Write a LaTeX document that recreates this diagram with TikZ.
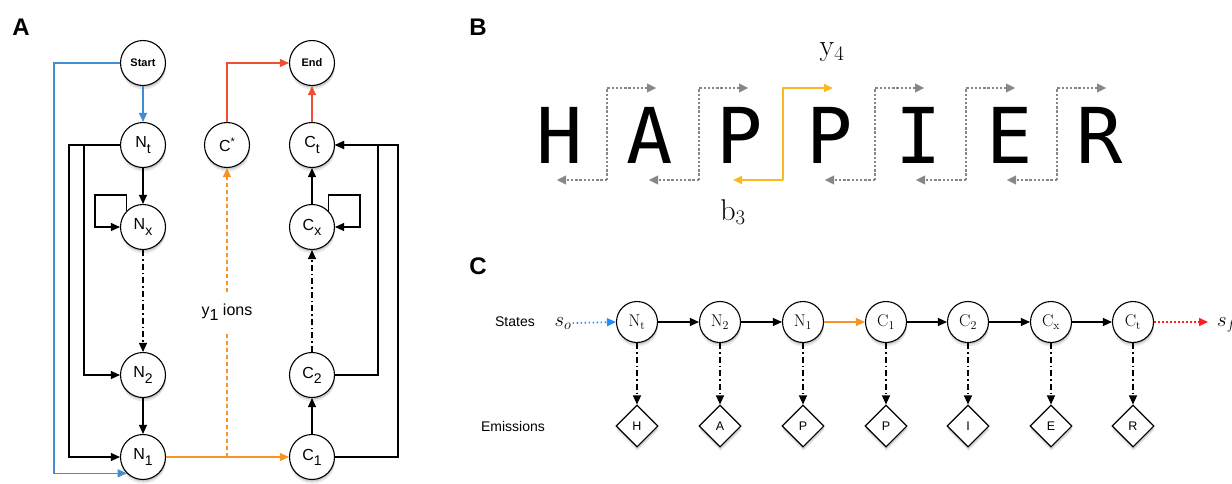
\documentclass[tikz,border=0pt]{standalone}
\usepackage{fontspec}
\usetikzlibrary{arrows.meta,shadows,shapes.geometric}
\newfontfamily\hv{Liberation Sans}
\newfontfamily\mono{DejaVu Sans Mono}
\definecolor{ablue}{RGB}{66,140,210}
\definecolor{ared}{RGB}{240,80,50}
\definecolor{aorange}{RGB}{247,148,40}
\definecolor{bgold}{RGB}{252,185,30}
\definecolor{bgray}{RGB}{135,135,135}
\definecolor{cblue}{RGB}{30,140,255}
\definecolor{cred}{RGB}{255,30,30}
\newcommand\mysub[2]{#1\raisebox{-0.32em}{\fontsize{14}{14}\selectfont #2}}
\tikzset{
  shad/.style={drop shadow={shadow xshift=0.5pt, shadow yshift=-2pt, opacity=0.3},
               drop shadow={shadow xshift=0.5pt, shadow yshift=-4pt, opacity=0.18}},
  st/.style={circle, draw, line width=1.1pt, fill=white, minimum size=45pt, inner sep=0pt,
             shad, font=\hv\fontsize{16}{16}\selectfont},
  cst/.style={st, minimum size=41pt, font=\fontsize{17}{17}\selectfont},
  em/.style={diamond, draw, line width=1.1pt, fill=white, minimum size=42pt, inner sep=0pt,
             shad, font=\hv\fontsize{12.5}{12.5}\selectfont},
  tip/.style={-{Triangle[length=9pt,width=8pt]}},
  ar/.style={tip, line width=1.1pt},
  ln/.style={line width=1.1pt},
  dd/.style={ar, dash pattern=on 6pt off 3pt on 1.5pt off 3pt},
  gdot/.style={bgray, line width=2.6pt, dash pattern=on 2.4pt off 1.8pt},
  gtip/.style={gdot, -{Triangle[length=9pt,width=9pt,line width=0.3pt]}},
  panel/.style={font=\hv\bfseries\fontsize{24}{24}\selectfont},
  letter/.style={anchor=base, inner sep=0pt, font=\mono\fontsize{77}{77}\selectfont},
  lab/.style={font=\hv\fontsize{14}{14}\selectfont},
}
\begin{document}
\begin{tikzpicture}[x=1pt,y=-1pt]
\useasboundingbox (0,0) rectangle (1232,483);
% ---------------- Panel A
\node[panel] (pA) at (21,27) {A};
\node[st, font=\hv\bfseries\fontsize{11}{11}\selectfont] (Start) at (143,63) {Start};
\node[st, font=\hv\bfseries\fontsize{11}{11}\selectfont] (End) at (312,63) {End};
\node[st] (Nt) at (143,145) {\mysub{N}{t}};
\node[st] (Cs) at (227,145) {C\raisebox{0.35em}{\fontsize{11}{11}\selectfont *}};
\node[st] (Ct) at (312,145) {\mysub{C}{t}};
\node[st] (Nx) at (143,227) {\mysub{N}{x}};
\node[st] (Cx) at (312,227) {\mysub{C}{x}};
\node[st] (N2) at (143,375) {\mysub{N}{2}};
\node[st] (C2) at (312,375) {\mysub{C}{2}};
\node[st] (N1) at (143,457) {\mysub{N}{1}};
\node[st] (C1) at (312,457) {\mysub{C}{1}};
\node[inner sep=0pt, minimum height=39pt, font=\hv\fontsize{16}{16}\selectfont] (ions) at (227,312) {y\raisebox{-0.32em}{1} ions};
\coordinate (bl) at (54,63);
\coordinate (nl1) at (69,145);
\coordinate (nl2) at (84,145);
\coordinate (lx) at (95,195);
\coordinate (rx) at (360,195);
\coordinate (cr2) at (378,145);
\coordinate (cr1) at (398,145);
\coordinate (J) at (227,457);
% blue
\draw[ar, ablue] (Start) -- (Nt);
\draw[ar, ablue] (Start.west) -- (bl) |- (N1.south west);
% left structure
\draw[ar] (Nt.west) -- (nl1) |- (N1.west);
\draw[ar] (Nt.west) -- (nl2) |- (N2.west);
\draw[ar] (Nt) -- (Nx);
\draw[ar] (Nx.north west) |- (lx) |- (Nx.west);
\draw[dd] (Nx) -- (N2);
\draw[ar] (N2) -- (N1);
% right structure
\draw[ar] (C1) -- (C2);
\draw[dd] (C2) -- (Cx);
\draw[ar] (Cx) -- (Ct);
\draw[ar] (Cx.north east) |- (rx) |- (Cx.east);
\draw[ar] (C2.east) -| (cr2) -- (Ct.east);
\draw[ar] (C1.east) -| (cr1) -- (Ct.east);
% red
\draw[ar, ared] (Ct) -- (End);
\draw[ar, ared] (Cs.north) |- (End.west);
% orange
\draw[ar, aorange] (N1) -- (C1);
\draw[ln, aorange, dash pattern=on 4pt off 3pt] (J) -- (ions.south);
\draw[ar, aorange, dash pattern=on 4pt off 3pt] (ions.north) -- (Cs.south);
% ---------------- Panel B
\node[panel] (pB) at (478,27) {B};
\foreach \ch/\xx [count=\i] in {H/560,A/650,P/740,P/830,I/919,E/1010,R/1100}
  \node[letter] (L\i) at (\xx,163) {\ch};
\foreach \xb [count=\i] in {607,699,875,966,1057}{
  \coordinate (gb\i) at (\xb,180);
  \coordinate (gt\i) at (\xb,88);
  \coordinate (gr\i) at (\xb+49,88);
  \coordinate (gl\i) at (\xb-50,180);
  \draw[gtip] (gb\i) -- (gt\i) -- (gr\i);
  \draw[gtip] (gb\i) -- (gl\i);
}
\coordinate (ob) at (783,180);
\coordinate (ot) at (783,88);
\coordinate (or) at (833,88);
\coordinate (ol) at (733,180);
\draw[bgold, line width=2pt, -{Triangle[length=9pt,width=8pt]}] (ob) -- (ot) -- (or);
\draw[bgold, line width=2pt, -{Triangle[length=9pt,width=8pt]}] (ob) -- (ol);
\node[font=\fontsize{30}{30}\selectfont] (y4) at (832,52) {$\mathrm{y}_4$};
\node[font=\fontsize{30}{30}\selectfont] (b3) at (733,212) {$\mathrm{b}_3$};
% ---------------- Panel C
\node[panel] (pC) at (478,266) {C};
\node[lab] (states) at (515,322) {States};
\node[lab] (emis) at (513,426) {Emissions};
\node[anchor=base, inner sep=1pt, font=\fontsize{20}{20}\selectfont] (so) at (563,326) {$s_o$};
\node[anchor=base west, inner sep=0pt, font=\fontsize{20}{20}\selectfont] (sf) at (1217,326) {$s_f$};
\foreach \nm/\tx/\xx/\em in {s1/{$\mathrm{N}_\mathrm{t}$}/637/H, s2/{$\mathrm{N}_2$}/720/A, s3/{$\mathrm{N}_1$}/803/P,
   s4/{$\mathrm{C}_1$}/886/P, s5/{$\mathrm{C}_2$}/968/I, s6/{$\mathrm{C}_\mathrm{x}$}/1051/E, s7/{$\mathrm{C}_\mathrm{t}$}/1133/R}{
  \node[cst] (\nm) at (\xx,322) {\tx};
  \node[em] (e\nm) at (\xx,426) {\em};
  \draw[dd] (\nm) -- (e\nm);
}
\draw[ar] (s1) -- (s2);
\draw[ar] (s2) -- (s3);
\draw[ar, aorange] (s3) -- (s4);
\draw[ar] (s4) -- (s5);
\draw[ar] (s5) -- (s6);
\draw[ar] (s6) -- (s7);
\draw[cblue, line width=1.6pt, dash pattern=on 1.6pt off 2.4pt, tip] (so.east) -- (s1.west);
\coordinate (sfe) at (1208,322);
\draw[cred, line width=1.6pt, dash pattern=on 1.6pt off 2.4pt, tip] (s7.east) -- (sfe);
\end{tikzpicture}
\end{document}
